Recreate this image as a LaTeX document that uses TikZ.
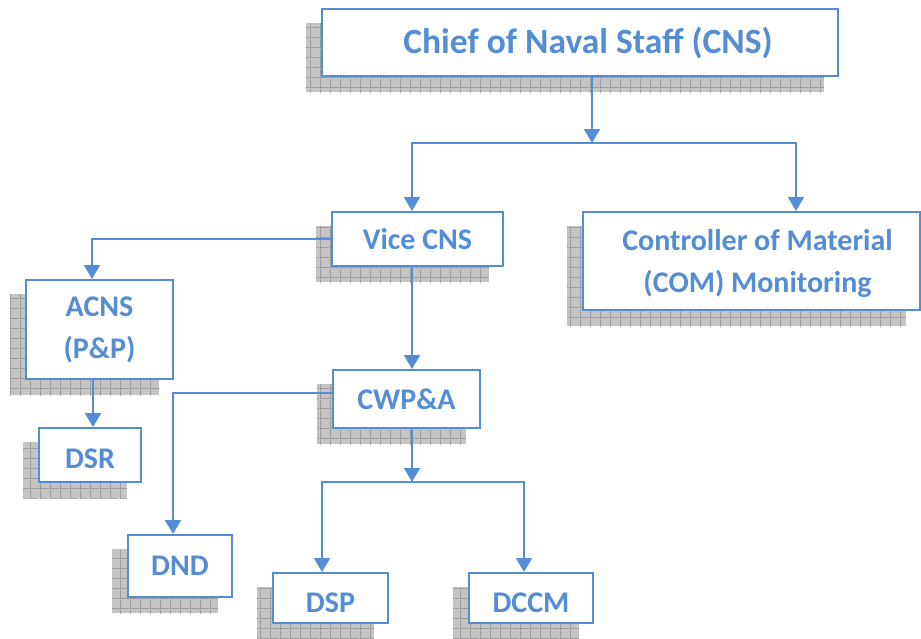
\documentclass[tikz,border=0pt]{standalone}
\usepackage{fontspec}
\setmainfont{Carlito}
\usetikzlibrary{arrows.meta,backgrounds,patterns}

\definecolor{orgblue}{RGB}{84,141,212}
\definecolor{shadowgray}{RGB}{196,196,196}
\definecolor{gridgray}{RGB}{138,138,138}

% square grid used to hatch the drop shadows
\pgfdeclarepatternformonly{shadowmesh}{\pgfqpoint{0pt}{0pt}}{\pgfqpoint{10pt}{10pt}}{\pgfqpoint{10pt}{10pt}}{
  \pgfsetlinewidth{1.4pt}
  \pgfpathmoveto{\pgfqpoint{0pt}{0pt}}\pgfpathlineto{\pgfqpoint{10pt}{0pt}}
  \pgfpathmoveto{\pgfqpoint{0pt}{0pt}}\pgfpathlineto{\pgfqpoint{0pt}{10pt}}
  \pgfusepath{stroke}
}

% lower the glyphs of a line without changing its box
\newcommand\dropline[2]{\raisebox{-#1}[\height][\depth]{#2}}

\tikzset{
  orgbox/.style={draw=orgblue, line width=2pt, fill=white, inner sep=0pt,
    text=orgblue, font=\fontsize{30}{42}\selectfont\bfseries, align=center},
  bigtext/.style={font=\fontsize{35.5}{42}\selectfont\bfseries},
  conn/.style={draw=orgblue, line width=2pt},
  arr/.style={conn, -{Triangle[width=16pt,length=14pt]}},
  shadowfill/.style={fill=shadowgray},
  shadowhatch/.style={pattern=shadowmesh, pattern color=gridgray},
}

\begin{document}
\begin{tikzpicture}[x=1pt, y=-1pt]
\useasboundingbox (0,0) rectangle (921,638);

% boxes of the organisation chart
\node[orgbox, bigtext, minimum width=516pt, minimum height=67pt] (cns) at (580,42.5)
  {\hspace*{16pt}\dropline{1pt}{Chief of Naval Staff (CNS)}};
\node[orgbox, minimum width=171pt, minimum height=54pt] (vice) at (417.5,239) {Vice CNS};
\node[orgbox, minimum width=337pt, minimum height=98pt] (com) at (751.5,261)
  {\hspace*{12pt}\dropline{3pt}{Controller of Material}\\\hspace*{12pt}\dropline{3pt}{(COM) Monitoring}};
\node[orgbox, minimum width=147pt, minimum height=99pt] (acns) at (99.5,329.5) {ACNS\\(P\&P)};
\node[orgbox, minimum width=102pt, minimum height=54pt] (dsr) at (90,455) {\dropline{4pt}{DSR}};
\node[orgbox, minimum width=147pt, minimum height=58pt] (cwpa) at (406.5,399) {CWP\&A};
\node[orgbox, minimum width=104pt, minimum height=62pt] (dnd) at (180,566) {DND};
\node[orgbox, minimum width=115pt, minimum height=50pt] (dsp) at (330.5,598) {\dropline{5pt}{DSP}};
\node[orgbox, minimum width=124pt, minimum height=50pt] (dccm) at (531,598) {\dropline{5pt}{DCCM}};

% hatched drop shadows behind every box
\begin{pgfonlayer}{background}
\foreach \n in {cns,vice,com,acns,dsr,cwpa,dnd,dsp,dccm}{
  \fill[shadowfill] ([shift={(-15,15)}]\n.south west) rectangle ([shift={(-15,15)}]\n.north east);
  \fill[shadowhatch] ([shift={(-15,15)}]\n.south west) rectangle ([shift={(-15,15)}]\n.north east);
}
\end{pgfonlayer}

% bus bars
\coordinate (bus1) at (592,143);
\coordinate (bus2) at (412,482);

% connectors
\draw[arr] ([xshift=12pt]cns.south) -- (bus1);
\draw[arr] (bus1) -| ([xshift=-5.5pt]vice.north);
\draw[arr] (bus1) -| ([xshift=44.5pt]com.north);
\draw[arr] (vice.west) -| ([xshift=-7.5pt]acns.north);
\draw[arr] ([xshift=-5.5pt]vice.south) -- ([xshift=5.5pt]cwpa.north);
\draw[arr] ([xshift=-6.5pt]acns.south) -- ([xshift=3pt]dsr.north);
\draw[arr] ([yshift=6pt]cwpa.west) -| ([xshift=-7pt]dnd.north);
\draw[arr] ([xshift=5.5pt]cwpa.south) -- (bus2);
\draw[arr] (bus2) -| ([xshift=-8.5pt]dsp.north);
\draw[arr] (bus2) -| ([xshift=-7pt]dccm.north);
\end{tikzpicture}
\end{document}
